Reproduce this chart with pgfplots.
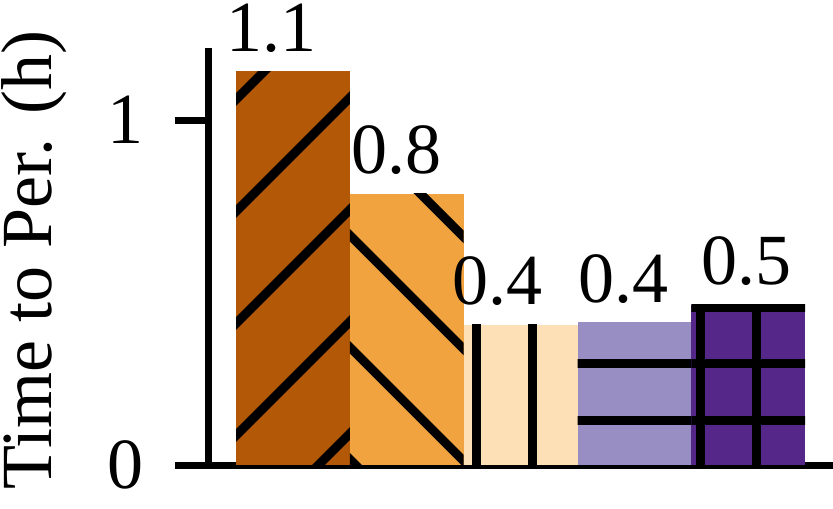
\documentclass[border=0pt]{standalone}
\usepackage{fontspec}
\setmainfont{Liberation Serif}
\usepackage{pgfplots}
\pgfplotsset{compat=1.18}
\usetikzlibrary{patterns.meta}
\definecolor{c1}{HTML}{B35806}
\definecolor{c2}{HTML}{F1A340}
\definecolor{c3}{HTML}{FEE0B6}
\definecolor{c4}{HTML}{998EC3}
\definecolor{c5}{HTML}{542788}
\begin{document}
\begin{tikzpicture}[font=\fontsize{36}{43}\selectfont]
\useasboundingbox (0,0) rectangle (416.5pt,254pt);
\begin{axis}[
  at={(104pt,21.5pt)}, anchor=south west,
  scale only axis, width=312.5pt, height=208.5pt,
  xmin=0.253, xmax=5.745, ymin=0, ymax=1.209,
  axis x line*=bottom, axis y line*=left,
  axis line style={line width=3.5pt, -},
  xtick=\empty, ytick={0,1},
  tick align=outside, major tick length=16.5pt,
  tick style={line width=3.5pt, black},
  yticklabel style={font=\fontsize{36}{43}\selectfont, xshift=-12pt},
  ybar, bar width=1, bar shift=0pt,
  /pgf/number format/assume math mode=true,
  ylabel={Time to Per. (h)},
  every axis y label/.style={at={(axis description cs:-0.2496,0.4916)}, rotate=90, anchor=base},
  nodes near coords,
  nodes near coords style={/pgf/number format/fixed, /pgf/number format/precision=1, /pgf/number format/fixed zerofill, /pgf/number format/assume math mode=true, anchor=base, inner sep=0pt, yshift=10pt},
  clip=false,
]
\addplot[fill=c1, draw=none, postaction={pattern={Lines[angle=45,distance=39.6pt,line width=4.5pt,yshift=30.3pt]}, pattern color=black}, every node near coord/.append style={xshift=-11pt}] coordinates {(1,1.142)};
\addplot[fill=c2, draw=none, postaction={pattern={Lines[angle=-45,distance=39.6pt,line width=4.5pt,yshift=31.3pt]}, pattern color=black}, every node near coord/.append style={xshift=-5pt}] coordinates {(2,0.786)};
\addplot[fill=c3, draw=none, postaction={pattern={Lines[angle=90,distance=28pt,line width=4.5pt,xshift=14pt,yshift=14pt]}, pattern color=black}, every node near coord/.append style={xshift=-11.5pt}] coordinates {(3,0.406)};
\addplot[fill=c4, draw=none, postaction={pattern={Lines[angle=0,distance=28pt,line width=4.5pt,yshift=16pt]}, pattern color=black}, every node near coord/.append style={xshift=-5.5pt}] coordinates {(4,0.414)};
\addplot[fill=c5, draw=none, postaction={pattern={Hatch[angle=0,distance=28pt,line width=4.5pt,xshift=14pt,yshift=16pt]}, pattern color=black}, every node near coord/.append style={xshift=-1pt}] coordinates {(5,0.464)};
\end{axis}
\end{tikzpicture}
\end{document}
